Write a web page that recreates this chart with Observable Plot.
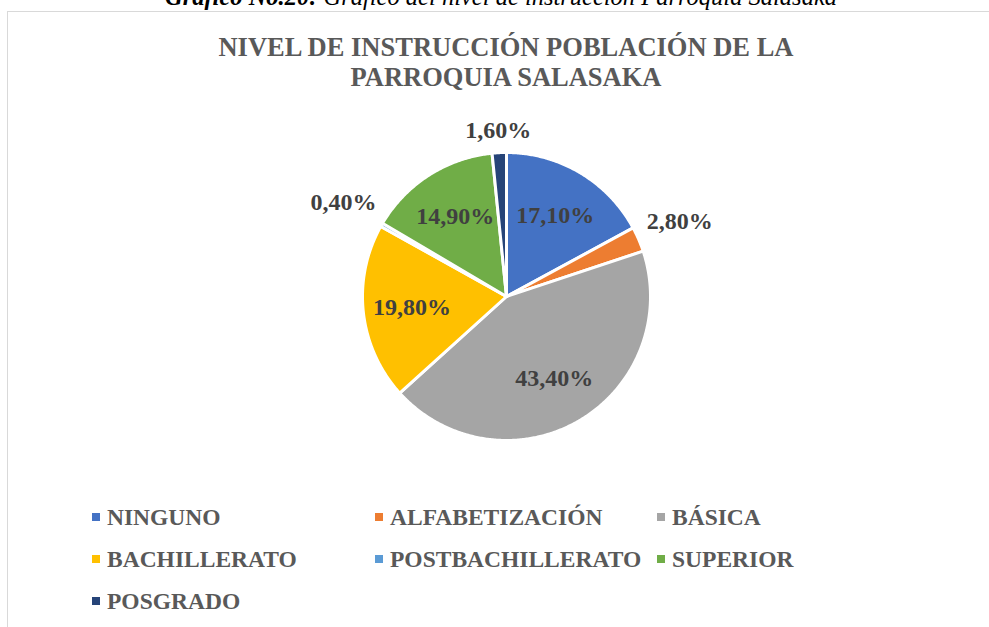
<!DOCTYPE html>
<html>
<head>
<meta charset="utf-8">
<script src="https://cdn.jsdelivr.net/npm/d3@7"></script>
<script src="https://cdn.jsdelivr.net/npm/@observablehq/plot@0.6"></script>
<style>
  html, body { margin: 0; padding: 0; background: #fff; }
  #wrap { position: relative; width: 989px; height: 627px; overflow: hidden;
          font-family: "Liberation Serif", "Times New Roman", serif; }
  #caption { position: absolute; left: 0; width: 1002px; top: -15px; text-align: center;
             font-size: 24.5px; line-height: 24px; font-style: italic; color: #000; white-space: nowrap; }
  #frame { position: absolute; left: 7px; top: 11px; width: 1200px; height: 800px;
           border-left: 1.5px solid #d9d9d9; border-top: 1.5px solid #d9d9d9; }
  #title { position: absolute; left: 0; width: 1012px; top: 32px; text-align: center;
           font-size: 26.5px; line-height: 30px; font-weight: bold; color: #595959; }
  #chart { position: absolute; left: 0; top: 100px; }
  #legend { position: absolute; left: 92px; top: 496px; display: grid;
            grid-template-columns: 283px 282px 300px; font-size: 23.5px; font-weight: bold; color: #595959; }
  .item { display: flex; align-items: center; height: 42px; white-space: nowrap; }
  .sw { width: 8px; height: 8px; margin-right: 7px; flex: none; }
</style>
</head>
<body>
<div id="wrap">
  <div id="caption"><b>Gráfico No.20:</b> Gráfico del nivel de instrucción Parroquia Salasaka</div>
  <div id="frame"></div>
  <div id="title">NIVEL DE INSTRUCCIÓN POBLACIÓN DE LA<br>PARROQUIA SALASAKA</div>
  <div id="chart"></div>
  <div id="legend"></div>
</div>
<script>
const categories = ["NINGUNO", "ALFABETIZACIÓN", "BÁSICA", "BACHILLERATO", "POSTBACHILLERATO", "SUPERIOR", "POSGRADO"];
const values = [17.1, 2.8, 43.4, 19.8, 0.4, 14.9, 1.6];
const colors = ["#4472C4", "#ED7D31", "#A5A5A5", "#FFC000", "#5B9BD5", "#70AD47", "#264478"];

const fmt = v => v.toFixed(2).replace(".", ",") + "%";

const W = 989, H = 370;
const cx = 506, cy = 196, R = 144;
const labelFont = "bold 24px 'Liberation Serif'";

const rows = categories.map((c, i) => ({cat: c, value: values[i]}));
const arcs = d3.pie().sort(null).value(d => d.value)(rows);

// polygon vertices for each wedge (unit circle, y up, angle clockwise from 12 o'clock)
const poly = [];
for (const a of arcs) {
  const n = Math.max(2, Math.ceil((a.endAngle - a.startAngle) / (Math.PI / 360)));
  poly.push({cat: a.data.cat, x: 0, y: 0});
  for (let k = 0; k <= n; k++) {
    const t = a.startAngle + (a.endAngle - a.startAngle) * k / n;
    poly.push({cat: a.data.cat, x: Math.sin(t), y: Math.cos(t)});
  }
}

// label positions
const ctx = document.createElement("canvas").getContext("2d");
ctx.font = labelFont;
const labelData = arcs.map(a => {
  const m = (a.startAngle + a.endAngle) / 2;
  const s = Math.sin(m), c = Math.cos(m);
  const txt = fmt(a.data.value);
  let r;
  if (a.data.value >= 5) {
    r = 0.66;
  } else {
    const w = ctx.measureText(txt).width;
    const ext = Math.abs(s) * w / 2 + Math.abs(c) * 11;
    r = (R + 10 + ext) / R;
  }
  return {x: s * r, y: c * r, text: txt};
});

const plot = Plot.plot({
  width: W, height: H,
  margin: 0,
  x: {domain: [-1, 1], range: [cx - R, cx + R], axis: null},
  y: {domain: [-1, 1], range: [cy + R, cy - R], axis: null},
  color: {domain: categories, range: colors},
  style: {background: "transparent", overflow: "visible"},
  marks: [
    Plot.line(poly, {x: "x", y: "y", z: "cat", fill: "cat", stroke: "white",
                     strokeWidth: 3, strokeLinejoin: "round", curve: "linear-closed"}),
    Plot.text(labelData, {x: "x", y: "y", text: "text", fontSize: 24, fontWeight: "bold",
                          fontFamily: "Liberation Serif", fill: "#404040"})
  ]
});
document.getElementById("chart").appendChild(plot);

const legend = document.getElementById("legend");
categories.forEach((c, i) => {
  const it = document.createElement("div");
  it.className = "item";
  const sw = document.createElement("span");
  sw.className = "sw";
  sw.style.background = colors[i];
  it.appendChild(sw);
  it.appendChild(document.createTextNode(c));
  legend.appendChild(it);
});
</script>
</body>
</html>
